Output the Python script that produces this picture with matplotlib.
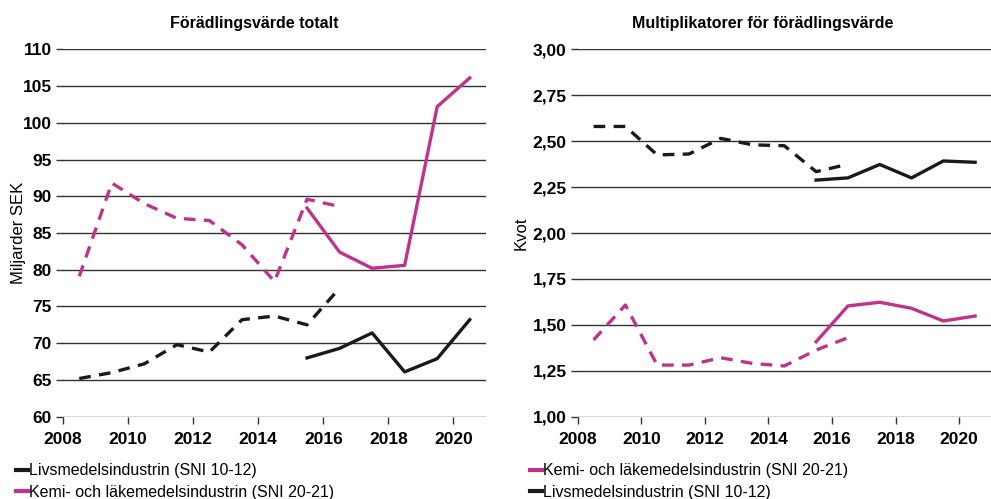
import matplotlib
matplotlib.use("Agg")
import matplotlib.pyplot as plt
from matplotlib.lines import Line2D
from matplotlib.ticker import FuncFormatter

plt.rcParams['font.family'] = ['Liberation Sans', 'DejaVu Sans']

MAGENTA = "#c0338b"
BLACK = "#1a1a1a"

# old series (dashed) and new series (solid); points sit mid-year
years_old = [2008, 2009, 2010, 2011, 2012, 2013, 2014, 2015, 2016]
years_new = [2015, 2016, 2017, 2018, 2019, 2020]

# Förädlingsvärde totalt, miljarder SEK
livs_total_old = [65.2, 66.0, 67.2, 69.8, 68.8, 73.2, 73.7, 72.5, 77.5]
livs_total_new = [68.0, 69.3, 71.4, 66.1, 67.9, 73.2]
kemi_total_old = [79.1, 91.8, 89.0, 87.0, 86.7, 83.4, 78.4, 89.6, 88.6]
kemi_total_new = [88.4, 82.4, 80.2, 80.6, 102.2, 106.1]

# Multiplikatorer för förädlingsvärde, kvot
livs_mult_old = [2.58, 2.58, 2.425, 2.43, 2.515, 2.48, 2.475, 2.334, 2.374]
livs_mult_new = [2.288, 2.30, 2.373, 2.30, 2.392, 2.385]
kemi_mult_old = [1.418, 1.608, 1.281, 1.281, 1.321, 1.29, 1.276, 1.363, 1.43]
kemi_mult_new = [1.408, 1.603, 1.623, 1.59, 1.521, 1.548]

label_livs = "Livsmedelsindustrin (SNI 10-12)"
label_kemi = "Kemi- och läkemedelsindustrin (SNI 20-21)"

fig = plt.figure(figsize=(9.91, 4.99), dpi=100)
ax1 = fig.add_axes([63 / 991, 1 - 416.7 / 499, 423 / 991, 367.4 / 499])
ax2 = fig.add_axes([577.7 / 991, 1 - 416.7 / 499, 413.3 / 991, 367.4 / 499])


def mid(years):
    return [y + 0.5 for y in years]


def style(ax, ylim, yticks, title, title_x, ylabel, ylabelpad, fmt=None):
    ax.set_xlim(2008, 2021)
    ax.set_ylim(*ylim)
    ax.set_yticks(yticks)
    ax.set_xticks(range(2008, 2021, 2))
    ax.grid(axis="y", color="#333333", lw=1.0)
    ax.set_axisbelow(True)
    for s in ["top", "right", "left", "bottom"]:
        ax.spines[s].set_visible(False)
    ax.tick_params(axis="both", length=5, width=1, color="#333333",
                   labelsize=12.5)
    ax.tick_params(axis="x", pad=6)
    ax.tick_params(axis="y", pad=3)
    for lab in ax.get_xticklabels() + ax.get_yticklabels():
        lab.set_fontweight("bold")
    if fmt:
        ax.yaxis.set_major_formatter(FuncFormatter(fmt))
    ax.set_title(title, fontsize=11.5, fontweight="bold", x=title_x, pad=15)
    ax.set_ylabel(ylabel, fontsize=12, labelpad=ylabelpad)


lw = 2.4
dash = (0, (3.5, 2.5))
ax1.plot(mid(years_old), livs_total_old, color=BLACK, lw=lw, ls=dash)
ax1.plot(mid(years_new), livs_total_new, color=BLACK, lw=lw)
ax1.plot(mid(years_old), kemi_total_old, color=MAGENTA, lw=lw, ls=dash)
ax1.plot(mid(years_new), kemi_total_new, color=MAGENTA, lw=lw)
style(ax1, (60, 110), range(60, 111, 5), "Förädlingsvärde totalt", 0.4515,
      "Miljarder SEK", -2)

ax2.plot(mid(years_old), livs_mult_old, color=BLACK, lw=lw, ls=dash)
ax2.plot(mid(years_new), livs_mult_new, color=BLACK, lw=lw)
ax2.plot(mid(years_old), kemi_mult_old, color=MAGENTA, lw=lw, ls=dash)
ax2.plot(mid(years_new), kemi_mult_new, color=MAGENTA, lw=lw)
style(ax2, (1.0, 3.0), [1.0, 1.25, 1.5, 1.75, 2.0, 2.25, 2.5, 2.75, 3.0],
      "Multiplikatorer för förädlingsvärde", 0.448, "Kvot", 3,
      fmt=lambda v, p: f"{v:.2f}".replace(".", ","))

h_livs = Line2D([], [], color=BLACK, lw=3)
h_kemi = Line2D([], [], color=MAGENTA, lw=3)
leg_kw = dict(frameon=False, fontsize=11.5, handlelength=0.7, handletextpad=0.1,
              labelspacing=0.4, borderaxespad=0, loc="upper left")
fig.legend([h_livs, h_kemi], [label_livs, label_kemi],
           bbox_to_anchor=(10 / 991, 1 - 457 / 499), **leg_kw)
fig.legend([h_kemi, h_livs], [label_kemi, label_livs],
           bbox_to_anchor=(524 / 991, 1 - 457 / 499), **leg_kw)

fig.savefig("out.png", dpi=100)
